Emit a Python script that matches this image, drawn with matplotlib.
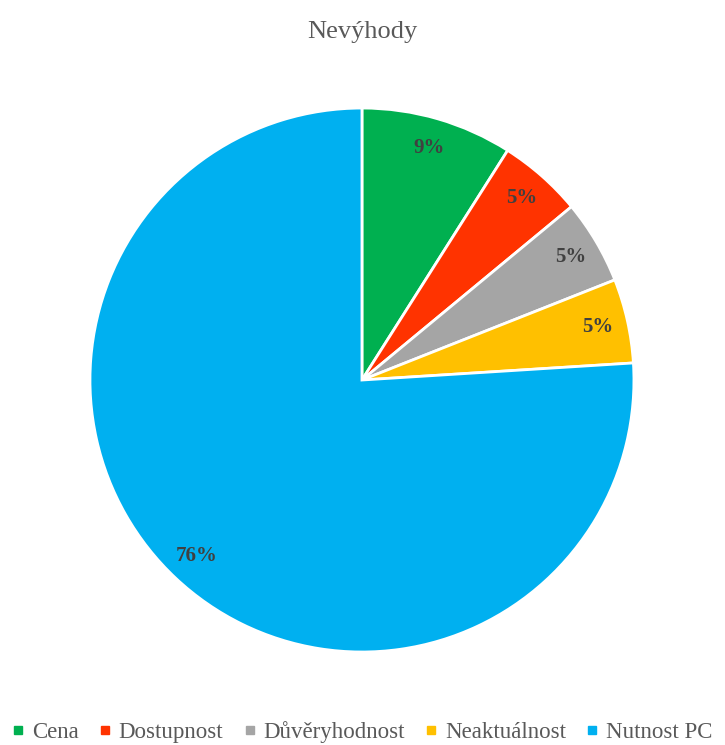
import matplotlib.pyplot as plt
from matplotlib.lines import Line2D

# data
categories = ["Cena", "Dostupnost", "Důvěryhodnost", "Neaktuálnost", "Nutnost PC"]
shares = [9, 5, 5, 5, 76]
colors = ["#00B050", "#FF3300", "#A5A5A5", "#FFC000", "#00B0F0"]

plt.rcParams['font.family'] = ['Liberation Serif', 'DejaVu Serif']

fig = plt.figure(figsize=(7.25, 7.45), dpi=100)
ax = fig.add_axes([0.1241, 0.1248, 0.7503, 0.7302])

wedges, texts, autotexts = ax.pie(
    shares, colors=colors, startangle=90, counterclock=False,
    autopct=lambda p: f"{p:.0f}%", pctdistance=0.89,
    wedgeprops=dict(edgecolor="white", linewidth=2),
    textprops=dict(fontsize=15, fontweight="bold", color="#404040"),
)
ax.set_xlim(-1, 1)
ax.set_ylim(-1, 1)
ax.set_aspect("equal")

fig.text(0.5, 0.957, "Nevýhody", ha="center", va="center", fontsize=19, color="#595959")

handles = [Line2D([], [], marker="s", linestyle="none", markersize=5.5,
                  markerfacecolor=c, markeredgecolor=c) for c in colors]
fig.legend(handles, categories, loc="center", bbox_to_anchor=(0.5, 0.018), ncol=5,
           frameon=False, fontsize=16.5, handlelength=0.5, handletextpad=0.35,
           columnspacing=0.9, labelcolor="#595959")

fig.savefig("out.png", dpi=100)
